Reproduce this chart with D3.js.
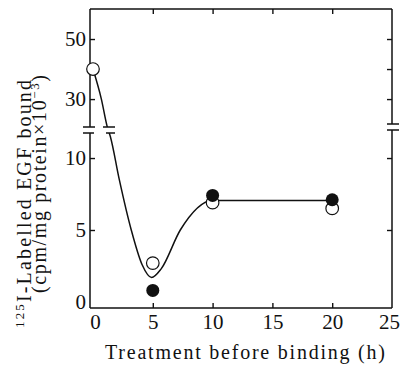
<!DOCTYPE html>
<html>
<head>
<meta charset="utf-8">
<script src="https://cdn.jsdelivr.net/npm/d3@7"></script>
<style>
  body { margin: 0; background: #fff; }
</style>
</head>
<body>
<div id="chart"></div>
<script>
// values
const xTicks = [0, 5, 10, 15, 20, 25];
const yLabelTicks = [0, 5, 10, 30, 50];
const yRightTicks = [5, 10, 30, 40, 50];
const openTimes = [0, 5, 10, 20];
const openValues = [40, 2.7, 6.9, 6.5];
const filledTimes = [5, 10, 20];
const filledValues = [0.8, 7.4, 7.1];
// fitted curve drawn by hand in the original
const curveTimes = [0, 0.7, 1.2, 1.45, 2.2, 3.2, 4.1, 4.9, 5.7, 7.3, 10, 20];
const curveValues = [40, 30, 20.5, 11.5, 8.5, 5, 2.6, 1.7, 2.3, 5, 7.05, 7.05];

const W = 400, H = 367;
const plotLeft = 90, plotRight = 392, plotTop = 9, plotBottom = 308;
const gapTop = 127, gapBottom = 133;
const serif = '"Liberation Serif", "Times New Roman", serif';

const svg = d3.select("#chart").append("svg")
    .attr("width", W)
    .attr("height", H)
    .attr("font-family", serif);

const x = d3.scaleLinear().domain([-0.25, 25]).range([plotLeft, plotRight]);
// broken axis: lower part 0..~11.7, upper part ~20.7..60
const y = d3.scaleLinear()
    .domain([-0.42, 11.74, 20.7, 60])
    .range([plotBottom, gapBottom, gapTop, plotTop]);

// axes (ticks point inward)
const gl = svg.append("g")
    .attr("transform", `translate(${plotLeft},0)`)
    .call(d3.axisLeft(y).tickValues(yLabelTicks).tickSizeInner(-5).tickSizeOuter(0).tickPadding(4));
const gr = svg.append("g")
    .attr("transform", `translate(${plotRight},0)`)
    .call(d3.axisRight(y).tickValues(yRightTicks).tickSizeInner(-5).tickSizeOuter(0).tickFormat(""));
const gb = svg.append("g")
    .attr("transform", `translate(0,${plotBottom})`)
    .call(d3.axisBottom(x).tickValues(xTicks).tickSizeInner(-5).tickSizeOuter(0).tickPadding(4));
const gt = svg.append("g")
    .attr("transform", `translate(0,${plotTop})`)
    .call(d3.axisTop(x).tickValues([5, 10, 15, 20]).tickSizeInner(-5).tickSizeOuter(0).tickFormat(""));

[gl, gr, gb, gt].forEach(g => {
    g.attr("font-family", serif).attr("font-size", 21);
    g.select(".domain").remove();
    g.selectAll(".tick line").attr("stroke", "#111").attr("stroke-width", 1.4);
    g.selectAll(".tick text").attr("fill", "#111");
});
gl.selectAll(".tick").filter(d => d === 0).select("line").remove();
gb.selectAll(".tick").filter(d => d === 0 || d === 25).select("line").remove();
gb.selectAll(".tick text").attr("dy", "0.8em");
gb.selectAll(".tick").filter(d => d === 0).select("text").attr("dx", 2);
gb.selectAll(".tick").filter(d => d === 25).select("text").attr("dx", -3);

// frame, broken on both sides
const frame = [
    [plotLeft, plotTop, plotRight, plotTop],
    [plotLeft, plotBottom, plotRight, plotBottom],
    [plotLeft, plotTop, plotLeft, gapTop],
    [plotLeft, gapBottom, plotLeft, plotBottom],
    [plotRight, plotTop, plotRight, gapTop - 3],
    [plotRight, gapBottom - 3, plotRight, plotBottom]
];
svg.append("g").selectAll("line")
    .data(frame)
    .join("line")
    .attr("x1", d => d[0]).attr("y1", d => d[1])
    .attr("x2", d => d[2]).attr("y2", d => d[3])
    .attr("stroke", "#111")
    .attr("stroke-width", 1.5);

// break marks
const marks = [
    [plotLeft - 7, plotLeft + 5, gapTop],
    [plotLeft - 7, plotLeft + 4, gapBottom],
    [plotRight - 5, plotRight + 7, gapTop - 3],
    [plotRight - 5, plotRight + 7, gapBottom - 3],
    [103, 115, gapTop],
    [106, 115, gapBottom]
];
svg.append("g").selectAll("line")
    .data(marks)
    .join("line")
    .attr("x1", d => d[0]).attr("x2", d => d[1])
    .attr("y1", d => d[2]).attr("y2", d => d[2])
    .attr("stroke", "#111")
    .attr("stroke-width", 1.5);

// clip the curve to the two panels
const clip = svg.append("defs").append("clipPath").attr("id", "panels");
clip.append("rect").attr("x", plotLeft).attr("y", plotTop).attr("width", plotRight - plotLeft).attr("height", gapTop - plotTop);
clip.append("rect").attr("x", plotLeft).attr("y", gapBottom).attr("width", plotRight - plotLeft).attr("height", plotBottom - gapBottom);

const line = d3.line()
    .x(d => x(d[0]))
    .y(d => y(d[1]))
    .curve(d3.curveMonotoneX);

svg.append("path")
    .datum(curveTimes.map((t, i) => [t, curveValues[i]]))
    .attr("clip-path", "url(#panels)")
    .attr("d", line)
    .attr("fill", "none")
    .attr("stroke", "#111")
    .attr("stroke-width", 1.5);

// points
svg.append("g").selectAll("circle")
    .data(openTimes.map((t, i) => [t, openValues[i]]))
    .join("circle")
    .attr("cx", d => x(d[0]))
    .attr("cy", d => y(d[1]))
    .attr("r", 6.3)
    .attr("fill", "#fff")
    .attr("stroke", "#111")
    .attr("stroke-width", 1.2);

svg.append("g").selectAll("circle")
    .data(filledTimes.map((t, i) => [t, filledValues[i]]))
    .join("circle")
    .attr("cx", d => x(d[0]))
    .attr("cy", d => y(d[1]))
    .attr("r", 6.5)
    .attr("fill", "#111");

// axis titles
svg.append("text")
    .attr("x", 105)
    .attr("y", 359)
    .attr("textLength", 280)
    .attr("lengthAdjust", "spacing")
    .attr("font-size", 20)
    .attr("fill", "#111")
    .text("Treatment before binding (h)");

const t1 = svg.append("text")
    .attr("transform", "translate(31,328) rotate(-90)")
    .attr("textLength", 248)
    .attr("lengthAdjust", "spacing")
    .attr("font-size", 20)
    .attr("fill", "#111");
t1.append("tspan").attr("dy", -7).attr("font-size", 13).text("125");
t1.append("tspan").attr("dy", 7).text("I-Labelled EGF bound");

const t2 = svg.append("text")
    .attr("transform", "translate(46,293) rotate(-90)")
    .attr("textLength", 218)
    .attr("lengthAdjust", "spacing")
    .attr("font-size", 20)
    .attr("fill", "#111");
t2.append("tspan").text("(cpm/mg protein×10");
t2.append("tspan").attr("dy", -7).attr("font-size", 13).text("−3");
t2.append("tspan").attr("dy", 7).text(")");
</script>
</body>
</html>
